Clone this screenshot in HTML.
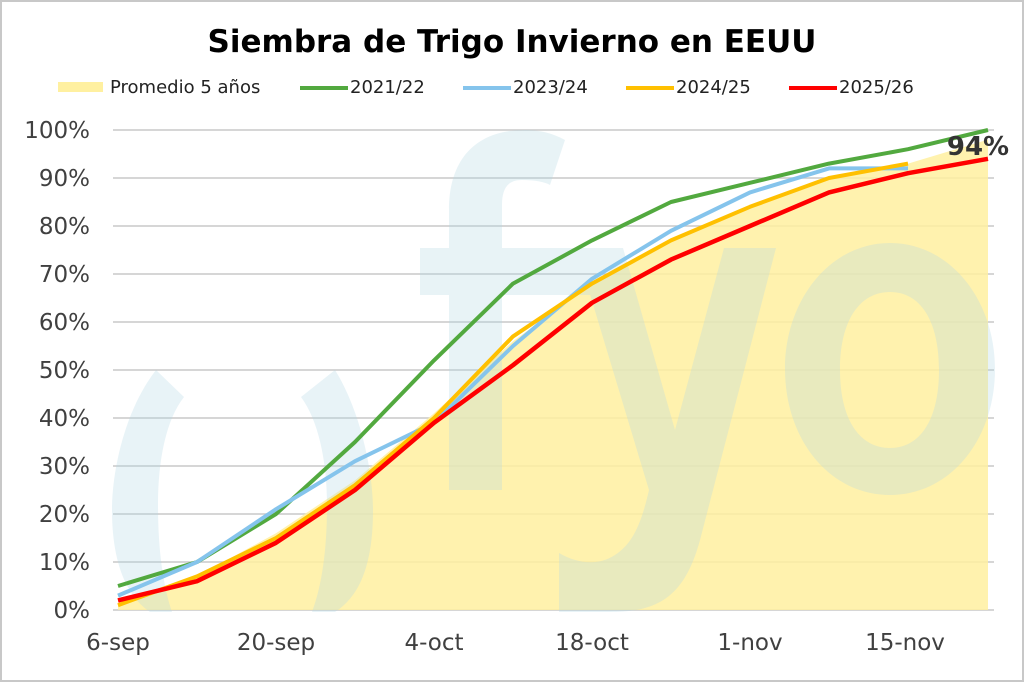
<!DOCTYPE html>
<html><head><meta charset="utf-8"><style>
body{margin:0;background:#fff}
svg{display:block;font-family:"DejaVu Sans","Liberation Sans",sans-serif}
</style></head><body>
<svg width="1024" height="682" viewBox="0 0 1024 682">
<rect x="1" y="1" width="1022" height="680" fill="#fff" stroke="#c8c8c8" stroke-width="2"/>
<g stroke="#c8c8c8" stroke-width="1.5">
<line x1="113" x2="994" y1="130" y2="130"/><line x1="113" x2="994" y1="178" y2="178"/>
<line x1="113" x2="994" y1="226" y2="226"/><line x1="113" x2="994" y1="274" y2="274"/>
<line x1="113" x2="994" y1="322" y2="322"/><line x1="113" x2="994" y1="370" y2="370"/>
<line x1="113" x2="994" y1="418" y2="418"/><line x1="113" x2="994" y1="466" y2="466"/>
<line x1="113" x2="994" y1="514" y2="514"/><line x1="113" x2="994" y1="562" y2="562"/>
<line x1="113" x2="994" y1="610" y2="610"/>
</g>
<polygon fill="#fff0a0" opacity="0.85" points="118,610 118,605.2 197,576.4 276,533.2 355,480.4 434,413.2 513,341.2 592,283.6 671,240.4 750,206.8 829,178 908,163.6 988,139.6 988,610"/>
<g fill="#b4d8e4" opacity="0.3">
<path d="M156,370 C125,410 112,470 112,510 C112,560 125,595 150,612 L172,612 C163,585 158,550 158,505 C158,460 166,420 184,397 Z"/>
<path d="M335,370 C360,410 373,470 373,510 C373,560 362,595 335,612 L312,612 C322,585 327,550 327,505 C327,460 318,420 301,397 Z"/>
<path d="M449,490 L502,490 L502,205 C502,188 508,180 522,180 C535,180 545,182 550,185 L565,140 C552,133 540,130 525,130 C475,130 449,160 449,210 Z"/>
<rect x="420" y="248" width="191" height="47"/>
<path d="M576,248 L623,248 L675,430 L724,248 L776,248 L700,540 C685,595 660,612 610,612 L559,612 L559,553 C580,565 600,565 615,555 C630,545 640,530 649,490 Z"/>
<path fill-rule="evenodd" d="M890,243 C830,243 785,300 785,369 C785,440 830,495 890,495 C950,495 995,440 995,369 C995,300 950,243 890,243 Z M890,292 C860,292 840,320 840,370 C840,420 860,448 890,448 C920,448 939,420 939,370 C939,320 920,292 890,292 Z"/>
</g>
<g fill="none" stroke-width="4" stroke-linejoin="round">
<polyline stroke="#52a93f" points="118,586 197,562 276,514 355,442 434,360.4 513,283.6 592,240.4 671,202 750,182.8 829,163.6 908,149.2 988,130"/>
<polyline stroke="#85c4ec" points="118,595.6 197,562 276,509.2 355,461.2 434,422.8 513,346 592,278.8 671,230.8 750,192.4 829,168.4 908,168.4"/>
<polyline stroke="#ffc000" points="118,605.2 197,576.4 276,538 355,485.2 434,418 513,336.4 592,283.6 671,240.4 750,206.8 829,178 908,163.6"/>
<polyline stroke="#ff0000" stroke-width="4.5" points="118,600.4 197,581.2 276,542.8 355,490 434,422.8 513,365.2 592,302.8 671,259.6 750,226 829,192.4 908,173.2 988,158.8"/>
</g>
<text x="978" y="155" font-size="26" font-weight="bold" fill="#333" text-anchor="middle">94%</text>
<g font-size="23" fill="#404040" text-anchor="end">
<text x="90" y="138">100%</text><text x="90" y="186">90%</text><text x="90" y="234">80%</text>
<text x="90" y="282">70%</text><text x="90" y="330">60%</text><text x="90" y="378">50%</text>
<text x="90" y="426">40%</text><text x="90" y="474">30%</text><text x="90" y="522">20%</text>
<text x="90" y="570">10%</text><text x="90" y="618">0%</text>
</g>
<g font-size="23" fill="#404040" text-anchor="middle">
<text x="118" y="650">6-sep</text><text x="276" y="650">20-sep</text><text x="434" y="650">4-oct</text>
<text x="592" y="650">18-oct</text><text x="750" y="650">1-nov</text><text x="905" y="650">15-nov</text>
</g>
<text x="512" y="52" font-size="31" font-weight="bold" text-anchor="middle" fill="#000">Siembra de Trigo Invierno en EEUU</text>
<g font-size="18" fill="#222">
<rect x="58" y="82" width="45" height="10" fill="#fff0a0"/><text x="110" y="93">Promedio 5 años</text>
<line x1="300" x2="348" y1="88" y2="88" stroke="#52a93f" stroke-width="4"/><text x="350" y="93">2021/22</text>
<line x1="463" x2="511" y1="88" y2="88" stroke="#85c4ec" stroke-width="4"/><text x="513" y="93">2023/24</text>
<line x1="626" x2="674" y1="88" y2="88" stroke="#ffc000" stroke-width="4"/><text x="676" y="93">2024/25</text>
<line x1="789" x2="837" y1="88" y2="88" stroke="#ff0000" stroke-width="4"/><text x="839" y="93">2025/26</text>
</g>
</svg>
</body></html>
